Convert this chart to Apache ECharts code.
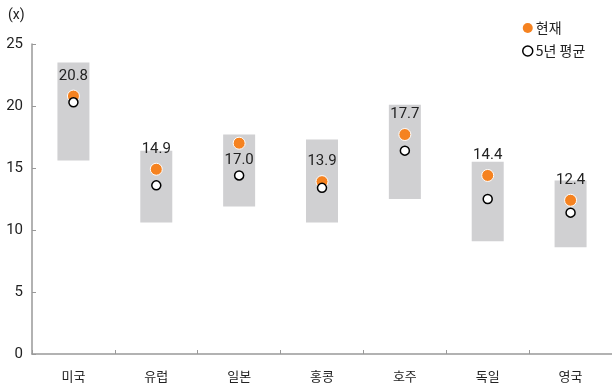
<!DOCTYPE html>
<html>
<head>
<meta charset="utf-8">
<script src="https://cdn.jsdelivr.net/npm/echarts@6/dist/echarts.min.js"></script>
<style>
  html, body { margin: 0; padding: 0; background: #fff; }
  #chart { width: 612px; height: 387px; }
</style>
</head>
<body>
<div id="chart"></div>
<script>
// P/E multiples by market: 5-year range (box), current value and 5-year average
const categories = ['미국', '유럽', '일본', '홍콩', '호주', '독일', '영국'];
const rangeLow   = [15.6, 10.6, 11.9, 10.6, 12.5, 9.1, 8.6];
const rangeHigh  = [23.5, 16.4, 17.7, 17.3, 20.1, 15.5, 14.0];
const current    = [20.8, 14.9, 17.0, 13.9, 17.7, 14.4, 12.4];
const avg5y      = [20.3, 13.6, 14.4, 13.4, 16.4, 12.5, 11.4];
const yTicks     = [0, 5, 10, 15, 20, 25];

const rangeSpan = rangeHigh.map((h, i) => +(h - rangeLow[i]).toFixed(2));
const fontCJK = '"Noto Sans CJK KR", Roboto, sans-serif';

const chart = echarts.init(document.getElementById('chart'), null, { renderer: 'canvas' });

chart.setOption({
  animation: false,
  textStyle: { fontFamily: 'Roboto, "Noto Sans CJK KR", sans-serif' },
  grid: { left: 32, right: 0, top: 44, bottom: 33, containLabel: false },
  legend: {
    orient: 'vertical',
    left: 517,
    top: 16,
    itemWidth: 10,
    itemHeight: 10,
    itemGap: 9,
    data: [
      { name: '현재', icon: 'circle', itemStyle: { color: '#f58220', borderWidth: 0 } },
      { name: '5년 평균', icon: 'circle', itemStyle: { color: '#fff', borderColor: '#000', borderWidth: 1.5 } }
    ],
    textStyle: { fontFamily: fontCJK, fontSize: 14, color: '#222', padding: [0, 0, 0, -2] }
  },
  graphic: [{
    type: 'text', left: 8, top: 8,
    style: { text: '(x)', fontSize: 14, fill: '#222', fontFamily: 'Roboto, sans-serif' }
  }],
  xAxis: {
    type: 'category',
    data: categories,
    axisLine: { lineStyle: { color: '#999', width: 1.5 } },
    axisTick: { show: true, inside: true, length: 4, lineStyle: { color: '#999' } },
    axisLabel: { fontFamily: fontCJK, fontSize: 13, color: '#222', margin: 16 }
  },
  yAxis: {
    type: 'value',
    min: 0, max: 25, interval: 5,
    splitLine: { show: false },
    axisLine: { show: true, lineStyle: { color: '#999', width: 1.5 } },
    axisTick: { show: true, inside: true, length: 4, lineStyle: { color: '#999' } },
    axisLabel: {
      fontSize: 15, color: '#222', margin: 9,
      formatter: v => yTicks.includes(v) ? String(v) : ''
    }
  },
  series: [
    {
      name: 'base', type: 'bar', stack: 'range', data: rangeLow,
      barWidth: 32, itemStyle: { color: 'transparent' }, silent: true
    },
    {
      name: 'range', type: 'bar', stack: 'range', data: rangeSpan,
      barWidth: 32, itemStyle: { color: '#d0d0d2' }, silent: true
    },
    {
      name: '현재', type: 'scatter', data: current.map((v, i) => ({
        value: v,
        label: i === 2 ? { position: 'bottom', distance: 3 } : undefined
      })),
      symbol: 'circle', symbolSize: 12,
      itemStyle: { color: '#f58220', borderColor: '#fff', borderWidth: 1, opacity: 1 },
      label: {
        show: true, position: 'top', distance: 6,
        fontSize: 15, color: '#222', fontFamily: 'Roboto, sans-serif',
        formatter: p => p.value.toFixed(1)
      },
      z: 3
    },
    {
      name: '5년 평균', type: 'scatter', data: avg5y,
      symbol: 'circle', symbolSize: 9,
      itemStyle: { color: '#fff', borderColor: '#000', borderWidth: 1.5, opacity: 1 },
      z: 4
    }
  ]
});
</script>
</body>
</html>
